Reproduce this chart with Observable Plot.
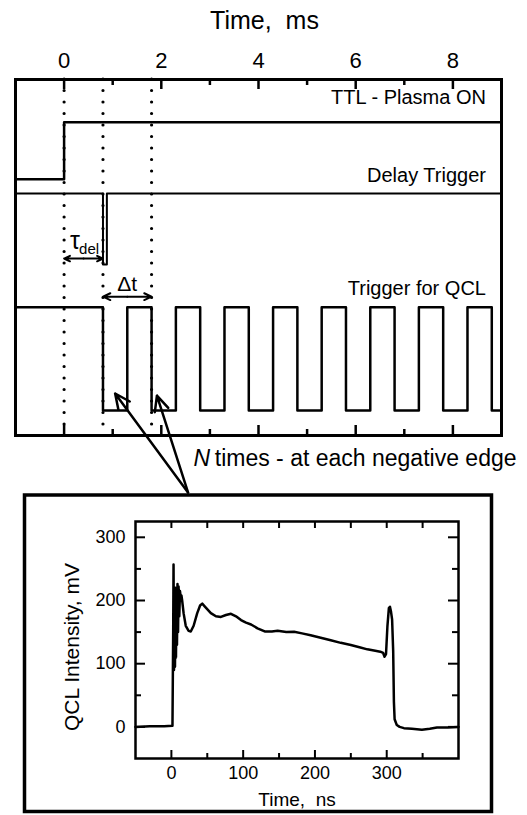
<!DOCTYPE html>
<html><head><meta charset="utf-8">
<script src="https://cdn.jsdelivr.net/npm/d3@7"></script>
<script src="https://cdn.jsdelivr.net/npm/@observablehq/plot@0.6"></script>
<style>
body{margin:0;background:#fff;}
#wrap{position:relative;width:527px;height:815px;font-family:"Liberation Sans",Arial,sans-serif;}
#top,#inset{position:absolute;left:0;}
#top{top:0}
#inset{top:493px}
svg text{white-space:pre;}
</style></head><body><div id="wrap"><div id="top"></div><div id="inset"></div></div>
<script>
const FONT = "Liberation Sans, Arial, sans-serif";

// ---------- Top panel: timing diagram (time in ms, levels in arbitrary units) ----------
const majorMs = [0, 2, 4, 6, 8];
const minorMs = [1, 3, 5, 7];
const ttlTimes  = [-1, 0, 9];
const ttlLevels = [72, 88, 88];
const delayTimes  = [-1, 0.8, 0.88, 9];
const delayLevels = [68, 48, 68, 68];
const trigFallEdges = [0.8, 1.8, 2.8, 3.8, 4.8, 5.8, 6.8, 7.8, 8.8];
const trigRiseEdges = [1.3, 2.3, 3.3, 4.3, 5.3, 6.3, 7.3, 8.3];
const trigHigh = 36, trigLow = 7;
const markerTimes = [0, 0.8, 1.8];
const traceNames = ["TTL - Plasma ON", "Delay Trigger", "Trigger for QCL"];
const traceLabelLevels = [95, 73, 41.3];
const traceLabelTime = 8.68;
const tauSpan = [0, 0.8], tauLevel = 49.7;
const dtSpan = [0.8, 1.8], dtLevel = 39;
const pointerTips = [{t: 1.05, v: 11.8}, {t: 1.91, v: 11.2}];
const pointerBase = {t: 2.55, v: -16};
const noteAnchor = {t: 2.66, v: -6.5};

// ---------- Inset: QCL pulse ----------
const nsMajor = [0, 100, 200, 300];
const nsMinor = [50, 150, 250, 350];
const mvMajor = [0, 100, 200, 300];
const mvMinor = [50, 150, 250];
const qclTime = [-50, -30, -10, 1.5, 2.5, 3, 3.6, 4.3, 5, 5.7, 6.4, 7.1, 7.8, 8.5, 9.3, 10, 11, 12, 13, 14, 15, 17, 20, 24, 27, 31, 36, 40, 43, 47, 55, 62, 69, 76, 83, 90, 97, 104, 111, 120, 130, 140, 148, 160, 171, 182, 194, 208, 222, 236, 250, 262, 273, 284, 291, 295, 297, 299, 301, 303, 304.5, 306, 307.5, 309, 310, 311, 314, 318, 324, 335, 349, 360, 370, 385, 400];
const qclIntensity = [0, 1, 1, 2, 150, 257, 90, 215, 95, 220, 110, 215, 130, 226, 150, 222, 175, 215, 205, 208, 200, 180, 160, 152, 151, 160, 180, 192, 195, 190, 180, 175, 174, 177, 179, 175, 169, 165, 162, 156, 151, 151, 152, 150, 150.5, 148, 145, 141, 137, 133, 129.5, 126, 122.7, 120.5, 119, 117, 111, 115, 160, 188, 190, 182, 170, 120, 40, 12, 3, 0, -2, -3, -4.5, -3, -1, -1, 0];

// build series
const ttl = ttlTimes.map((t, i) => ({t, v: ttlLevels[i]}));
const delay = delayTimes.map((t, i) => ({t, v: delayLevels[i]}));
const edges = [
  ...trigFallEdges.map(t => ({t, v: trigLow})),
  ...trigRiseEdges.map(t => ({t, v: trigHigh}))
].sort((a, b) => a.t - b.t);
const trig = [{t: -1, v: trigHigh}, ...edges, {t: 9, v: trigLow}];
const traceLabels = traceNames.map((name, i) => ({name, t: traceLabelTime, v: traceLabelLevels[i]}));
const mid = s => (s[0] + s[1]) / 2;
const spanArrows = [
  {x1: mid(tauSpan), x2: tauSpan[0], y: tauLevel},
  {x1: mid(tauSpan), x2: tauSpan[1], y: tauLevel},
  {x1: mid(dtSpan), x2: dtSpan[0], y: dtLevel},
  {x1: mid(dtSpan), x2: dtSpan[1], y: dtLevel}
];
const pointers = pointerTips.map(p => ({x1: pointerBase.t, y1: pointerBase.v, x2: p.t, y2: p.v}));

const topPlot = Plot.plot({
  width: 527, height: 493,
  marginTop: 79, marginBottom: 58, marginLeft: 15, marginRight: 26,
  x: {domain: [-1, 9]},
  y: {domain: [0, 100], axis: null},
  style: {fontFamily: FONT, background: "transparent", overflow: "visible", color: "black"},
  marks: [
    Plot.axisX({anchor: "top", ticks: majorMs, tickSize: 0, tickPadding: 12, fontSize: 22, label: null, tickFormat: d => String(d)}),
    Plot.text(["Time,  ms"], {frameAnchor: "top", lineAnchor: "middle", dy: -59, dx: 6, fontSize: 25}),
    Plot.ruleX(majorMs, {insetBottom: 346, strokeWidth: 2.5}),
    Plot.ruleX(minorMs, {insetBottom: 350, strokeWidth: 2.5}),
    Plot.ruleX(majorMs, {insetTop: 346, strokeWidth: 2.5}),
    Plot.ruleX(minorMs, {insetTop: 350, strokeWidth: 2.5}),
    Plot.ruleX(markerTimes, {strokeWidth: 3.2, strokeDasharray: "0 11.5", strokeLinecap: "round"}),
    Plot.line(ttl, {x: "t", y: "v", curve: "step-after", strokeWidth: 2.5}),
    Plot.line(delay, {x: "t", y: "v", curve: "step-after", strokeWidth: 2}),
    Plot.line(trig, {x: "t", y: "v", curve: "step-after", strokeWidth: 2.5}),
    Plot.text(traceLabels, {x: "t", y: "v", text: "name", textAnchor: "end", fontSize: 20}),
    Plot.arrow(spanArrows, {x1: "x1", x2: "x2", y1: "y", y2: "y", strokeWidth: 2, headLength: 9, headAngle: 50}),
    Plot.text(["τ"], {x: tauSpan[0], y: tauLevel, textAnchor: "start", dx: 6, dy: -18, fontSize: 25}),
    Plot.text(["del"], {x: tauSpan[0], y: tauLevel, textAnchor: "start", dx: 15, dy: -9, fontSize: 15}),
    Plot.text(["Δt"], {x: mid(dtSpan), y: dtLevel, dy: -12, fontSize: 21}),
    Plot.arrow(pointers, {x1: "x1", y1: "y1", x2: "x2", y2: "y2", strokeWidth: 2.5, headLength: 10, headAngle: 50}),
    Plot.text(["N"], {x: noteAnchor.t, y: noteAnchor.v, textAnchor: "start", fontStyle: "italic", fontSize: 23}),
    Plot.text([" times - at each negative edge"], {x: noteAnchor.t, y: noteAnchor.v, textAnchor: "start", dx: 15, fontSize: 23}),
    Plot.frame({strokeWidth: 3})
  ]
});
document.getElementById("top").appendChild(topPlot);

const qcl = qclTime.map((t, i) => ({t, v: qclIntensity[i]}));
const insetPlot = Plot.plot({
  width: 527, height: 322,
  marginTop: 28, marginBottom: 57, marginLeft: 135, marginRight: 69,
  x: {domain: [-50, 400]},
  y: {domain: [-50, 325]},
  style: {fontFamily: FONT, background: "transparent", overflow: "visible", color: "black"},
  marks: [
    Plot.frame({strokeWidth: 3.5, insetLeft: -111, insetRight: -33, insetTop: -26.5, insetBottom: -53}),
    Plot.axisX({anchor: "bottom", ticks: nsMajor, tickSize: 0, tickPadding: 8, fontSize: 18, label: null}),
    Plot.axisY({anchor: "left", ticks: mvMajor, tickSize: 0, tickPadding: 10, fontSize: 18, label: null}),
    Plot.ruleX(nsMajor, {insetTop: 229, strokeWidth: 2}),
    Plot.ruleX(nsMinor, {insetTop: 232, strokeWidth: 2}),
    Plot.ruleX([...nsMajor, ...nsMinor], {insetBottom: 230, strokeWidth: 2}),
    Plot.ruleY(mvMajor, {insetRight: 313, strokeWidth: 2}),
    Plot.ruleY(mvMinor, {insetRight: 317, strokeWidth: 2}),
    Plot.ruleY(mvMajor, {insetLeft: 313, strokeWidth: 2}),
    Plot.ruleY(mvMinor, {insetLeft: 317, strokeWidth: 2}),
    Plot.line(qcl, {x: "t", y: "v", strokeWidth: 2.5}),
    Plot.text(["QCL Intensity, mV"], {frameAnchor: "left", textAnchor: "middle", lineAnchor: "middle", rotate: -90, dx: -63, dy: 7, fontSize: 21}),
    Plot.text(["Time,  ns"], {frameAnchor: "bottom", lineAnchor: "middle", dy: 41, fontSize: 19}),
    Plot.frame({strokeWidth: 2.5})
  ]
});
document.getElementById("inset").appendChild(insetPlot);
</script>
</body></html>
